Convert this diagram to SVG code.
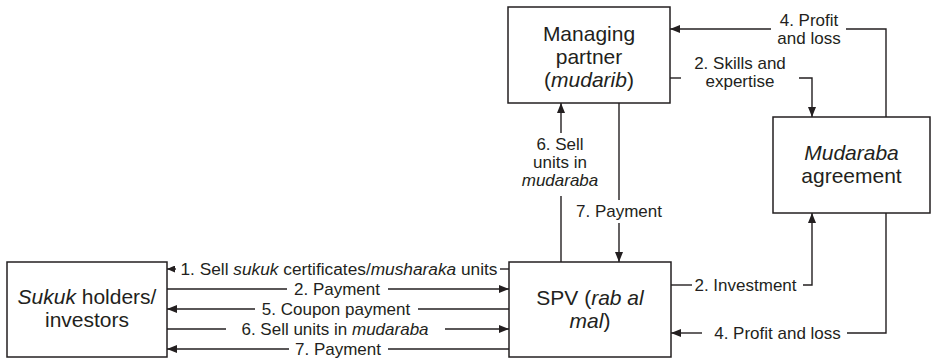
<svg xmlns="http://www.w3.org/2000/svg" width="931" height="360" viewBox="0 0 931 360">
<defs>
<style>
.box{fill:#fff;stroke:#231f20;stroke-width:1.5}
.bt{font-family:"Liberation Sans",Arial,sans-serif;font-size:21px;fill:#231f20;text-anchor:middle}
.lt{font-family:"Liberation Sans",Arial,sans-serif;font-size:17px;fill:#231f20;text-anchor:middle}
.i{font-style:italic}
.c{fill:none;stroke:#231f20;stroke-width:1.4}
.a{marker-end:url(#ah)}
.s{marker-end:url(#ahs)}
</style>
<marker id="ah" markerUnits="userSpaceOnUse" markerWidth="10" markerHeight="8" viewBox="0 0 10 8" refX="10" refY="4" orient="auto">
<path d="M0,0 L10,4 L0,8 z" fill="#231f20"/>
</marker>
<marker id="ahs" markerUnits="userSpaceOnUse" markerWidth="8" markerHeight="7" viewBox="0 0 8 7" refX="8" refY="3.5" orient="auto">
<path d="M0,0 L8,3.5 L0,7 z" fill="#231f20"/>
</marker>
</defs>
<rect width="931" height="360" fill="#fff"/>

<g id="connectors">
<path class="c" d="M886,117 V29 H846"/>
<path class="c a" d="M771,29 H670"/>
<text class="lt" x="809" y="26">4. Profit</text>
<text class="lt" x="809" y="44">and loss</text>

<path class="c" d="M670,78 H681"/>
<path class="c a" d="M799,78 H812 V117"/>
<text class="lt" x="740" y="69">2. Skills and</text>
<text class="lt" x="740" y="87">expertise</text>

<path class="c" d="M561,262 V196"/>
<path class="c a" d="M561,133 V103"/>
<text class="lt" x="560" y="150">6. Sell</text>
<text class="lt" x="560" y="168">units in</text>
<text class="lt i" x="560" y="186">mudaraba</text>

<path class="c" d="M619,103 V200"/>
<path class="c a" d="M619,223 V262"/>
<text class="lt" x="619" y="217">7. Payment</text>

<path class="c" d="M671,285 H692"/>
<path class="c a" d="M803,285 H812 V213"/>
<text class="lt" x="745.5" y="291">2. Investment</text>

<path class="c" d="M886,213 V333 H847"/>
<path class="c a" d="M702,333 H671"/>
<text class="lt" x="777.5" y="339">4. Profit and loss</text>

<path class="c" d="M509,269 H500"/>
<path class="c s" d="M176,269 H167"/>
<text class="lt" x="339" y="275" style="font-size:17.3px">1. Sell <tspan class="i">sukuk</tspan> certificates/<tspan class="i">musharaka</tspan> units</text>

<path class="c" d="M167,289 H287"/>
<path class="c a" d="M388,289 H509"/>
<text class="lt" x="337" y="295">2. Payment</text>

<path class="c" d="M509,309 H418"/>
<path class="c a" d="M255,309 H167"/>
<text class="lt" x="336" y="315">5. Coupon payment</text>

<path class="c" d="M167,329 H226"/>
<path class="c a" d="M445,329 H509"/>
<text class="lt" x="335" y="335">6. Sell units in <tspan class="i">mudaraba</tspan></text>

<path class="c" d="M509,349 H388"/>
<path class="c a" d="M289,349 H167"/>
<text class="lt" x="338" y="355">7. Payment</text>
</g>

<g id="managing-partner">
<rect class="box" x="508" y="7" width="162" height="96"/>
<text class="bt" x="589" y="41">Managing</text>
<text class="bt" x="589" y="64">partner</text>
<text class="bt" x="589" y="87">(<tspan class="i">mudarib</tspan>)</text>
</g>

<g id="mudaraba-agreement">
<rect class="box" x="773" y="117" width="157" height="96"/>
<text class="bt i" x="851.5" y="160">Mudaraba</text>
<text class="bt" x="851.5" y="183">agreement</text>
</g>

<g id="spv">
<rect class="box" x="509" y="262" width="162" height="95"/>
<text class="bt" x="590" y="305">SPV (<tspan class="i">rab al</tspan></text>
<text class="bt" x="590" y="328"><tspan class="i">mal</tspan>)</text>
</g>

<g id="sukuk-holders">
<rect class="box" x="7" y="262" width="160" height="95"/>
<text class="bt" x="87" y="304"><tspan class="i">Sukuk</tspan> holders/</text>
<text class="bt" x="87" y="327">investors</text>
</g>
</svg>
